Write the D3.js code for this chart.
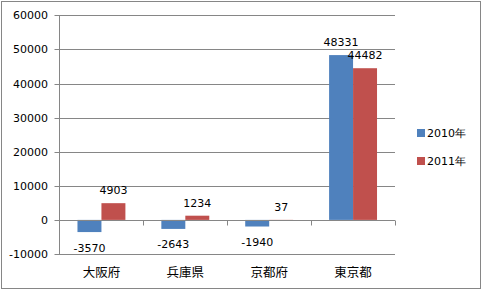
<!DOCTYPE html>
<html><head><meta charset="utf-8">
<script src="https://cdn.jsdelivr.net/npm/d3@7"></script>
<style>body{margin:0;background:#fff}svg{display:block}</style>
</head><body>
<script>
const categories = ["大阪府", "兵庫県", "京都府", "東京都"];
const seriesNames = ["2010年", "2011年"];
const values2010 = [-3570, -2643, -1940, 48331];
const values2011 = [4903, 1234, 37, 44482];
const yTicks = [-10000, 0, 10000, 20000, 30000, 40000, 50000, 60000];
const colors = ["#4F81BD", "#C0504D"];

const W = 483, H = 291;
const svg = d3.select("body").append("svg").attr("width", W).attr("height", H);
svg.append("rect").attr("x", 1.5).attr("y", 1.5).attr("width", 479).attr("height", 287)
  .attr("fill", "#fff").attr("stroke", "#868686");

const left = 59.5, right = 395;
const y = d3.scaleLinear().domain([-10000, 60000]).range([254, 15.3]);
const x0 = d3.scaleBand().domain(categories).range([left, right]).padding(0);
const x1 = d3.scaleBand().domain(seriesNames).range([0, x0.bandwidth()]).paddingInner(0).paddingOuter(0.75);

// gridlines
svg.append("g").selectAll("line").data(yTicks).join("line")
  .attr("x1", left - 5).attr("x2", right)
  .attr("y1", d => Math.round(y(d)) + 0.5).attr("y2", d => Math.round(y(d)) + 0.5)
  .attr("stroke", "#868686").attr("stroke-width", 1);

// y axis line
svg.append("line").attr("x1", left).attr("x2", left).attr("y1", y(60000)).attr("y2", y(-10000) + 0.5)
  .attr("stroke", "#868686");

// y tick labels
svg.append("g").selectAll("text").data(yTicks).join("text")
  .attr("x", 48).attr("y", d => y(d) + 4)
  .attr("text-anchor", "end").attr("font-family", "DejaVu Sans, Verdana, sans-serif")
  .attr("font-size", 11).attr("fill", "#000").text(d => d);

// bars
const data = [];
categories.forEach((c, i) => {
  data.push({cat: c, s: seriesNames[0], v: values2010[i], col: colors[0]});
  data.push({cat: c, s: seriesNames[1], v: values2011[i], col: colors[1]});
});
svg.append("g").selectAll("rect").data(data).join("rect")
  .attr("x", d => x0(d.cat) + x1(d.s))
  .attr("width", x1.bandwidth())
  .attr("y", d => y(Math.max(0, d.v)))
  .attr("height", d => Math.abs(y(d.v) - y(0)))
  .attr("fill", d => d.col);

// zero axis line + category ticks
const zy = Math.round(y(0)) + 0.5;
svg.append("line").attr("x1", left).attr("x2", right).attr("y1", zy).attr("y2", zy).attr("stroke", "#868686");
const bounds = categories.map(c => x0(c) + x0.bandwidth());
svg.append("g").selectAll("line").data(bounds).join("line")
  .attr("x1", d => Math.round(d) + 0.5).attr("x2", d => Math.round(d) + 0.5)
  .attr("y1", zy).attr("y2", zy + 5).attr("stroke", "#868686");

// data labels
svg.append("g").selectAll("text").data(data).join("text")
  .attr("x", d => x0(d.cat) + x1(d.s) + x1.bandwidth() / 2)
  .attr("y", d => d.v >= 0 ? y(d.v) - 9 : y(d.v) + 19.5)
  .attr("text-anchor", "middle").attr("font-family", "DejaVu Sans, Verdana, sans-serif")
  .attr("font-size", 11).attr("fill", "#000").text(d => d.v);

// category labels
svg.append("g").selectAll("text").data(categories).join("text")
  .attr("x", d => x0(d) + x0.bandwidth() / 2).attr("y", 277)
  .attr("text-anchor", "middle").attr("font-family", "Noto Sans CJK JP, sans-serif")
  .attr("font-size", 12.5).attr("fill", "#000").text(d => d);

// legend
const lg = svg.append("g").selectAll("g").data(seriesNames).join("g")
  .attr("transform", (d, i) => `translate(417, ${129 + i * 28})`);
lg.append("rect").attr("width", 8).attr("height", 8).attr("fill", (d, i) => colors[i]);
lg.append("text").attr("x", 10).attr("y", 7.5).attr("font-family", "DejaVu Sans, Verdana, sans-serif")
  .attr("font-size", 11).attr("fill", "#000").text(d => d);
</script>
</body></html>
